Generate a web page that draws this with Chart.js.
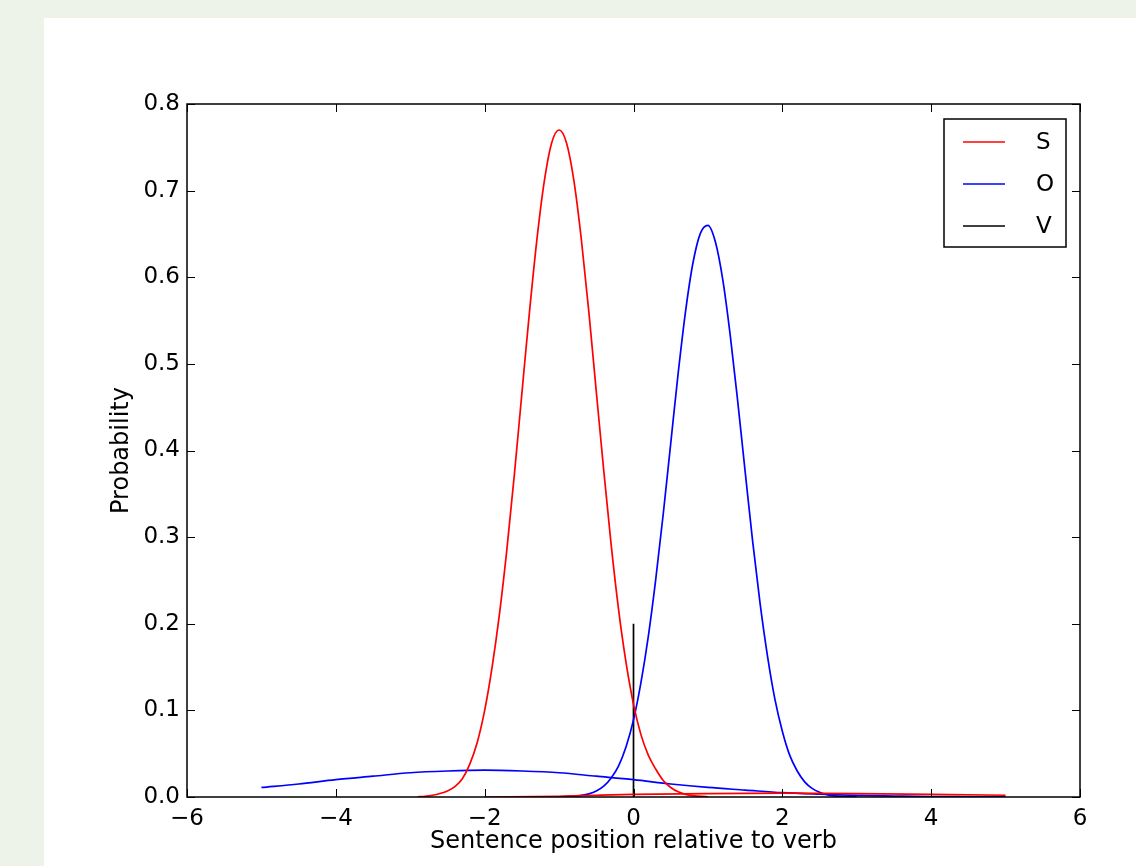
<!DOCTYPE html>
<html>
<head>
<meta charset="utf-8">
<script src="https://cdn.jsdelivr.net/npm/chart.js@4/dist/chart.umd.min.js"></script>
<style>
  html, body { margin: 0; padding: 0; background: #eef3e9; }
  body { width: 1136px; height: 866px; position: relative; overflow: hidden; }
  #panel { position: absolute; left: 44px; top: 18px; width: 1092px; height: 848px; background: #fff; }
  #chart { position: absolute; left: 0; top: 0; }
</style>
</head>
<body>
<div id="panel"><canvas id="chart" width="1092" height="848"></canvas></div>
<script>
// S: subject position, main peak (red)
const sX = [-2.9, -2.8, -2.7, -2.6, -2.5, -2.4, -2.3, -2.2, -2.1, -2.0, -1.9, -1.8, -1.7, -1.6, -1.5, -1.4, -1.3, -1.2, -1.1,
  -1.0, -0.9, -0.8, -0.7, -0.6, -0.5, -0.4, -0.3, -0.2, -0.1, 0.0, 0.1, 0.2, 0.3, 0.4, 0.5, 0.6, 0.7, 0.8, 1.0];
const sY = [0.0003, 0.0008, 0.002, 0.004, 0.007, 0.012, 0.021, 0.038, 0.063, 0.100, 0.150, 0.212, 0.287, 0.373, 0.466, 0.558, 0.642, 0.710, 0.755,
  0.770, 0.755, 0.711, 0.643, 0.560, 0.468, 0.377, 0.291, 0.216, 0.155, 0.107, 0.072, 0.048, 0.032, 0.019, 0.011, 0.006, 0.003, 0.0015, 0.0003];

// S: low flat tail (red)
const sTailX = [-2, -1, -0.5, 0, 1, 2, 3, 4, 5];
const sTailY = [0.0, 0.0008, 0.002, 0.003, 0.004, 0.0045, 0.004, 0.003, 0.002];

// O: object position, main peak (blue)
const oX = [-1.0, -0.8, -0.7, -0.6, -0.5, -0.4, -0.3, -0.2, -0.1, 0.0, 0.1, 0.2, 0.3, 0.4, 0.5, 0.6, 0.7, 0.8, 0.9,
  1.0, 1.1, 1.2, 1.3, 1.4, 1.5, 1.6, 1.7, 1.8, 1.9, 2.0, 2.1, 2.2, 2.3, 2.4, 2.5, 2.6, 2.7, 2.8, 3.0];
const oY = [0.0002, 0.0009, 0.0018, 0.0036, 0.0069, 0.0125, 0.022, 0.036, 0.058, 0.089, 0.132, 0.186, 0.252, 0.327, 0.408, 0.489, 0.561, 0.617, 0.651,
  0.660, 0.641, 0.597, 0.533, 0.457, 0.376, 0.296, 0.224, 0.163, 0.113, 0.076, 0.048, 0.030, 0.0175, 0.0099, 0.0054, 0.0028, 0.0014, 0.0007, 0.0001];

// O: broad low hump (blue)
const oWideX = [-5.0, -4.5, -4.0, -3.5, -3.0, -2.5, -2.0, -1.5, -1.0, -0.5, 0.0, 0.5, 1.0, 1.5, 2.0, 2.5, 3.0, 3.5, 4.0, 4.5, 5.0];
const oWideY = [0.011, 0.015, 0.020, 0.024, 0.028, 0.030, 0.031, 0.030, 0.028, 0.024, 0.020, 0.015, 0.011, 0.008, 0.005, 0.0032, 0.0018, 0.0011, 0.0005, 0.0003, 0.0001];

// V: verb marker (black)
const vX = [0, 0];
const vY = [0, 0.2];

const seriesNames = ['S', 'O', 'V'];
const seriesColors = ['#ff0000', '#0000ff', '#000000'];

const xTicks = [-6, -4, -2, 0, 2, 4, 6];
const yTicks = [0.0, 0.1, 0.2, 0.3, 0.4, 0.5, 0.6, 0.7, 0.8];

const FONT = 'DejaVu Sans';
Chart.defaults.font.family = FONT;
Chart.defaults.color = '#000';

function pts(xs, ys) {
  return xs.map((x, i) => ({ x: x, y: ys[i] }));
}

function curve(label, xs, ys, color, smooth) {
  return {
    label: label,
    data: pts(xs, ys),
    borderColor: color,
    borderWidth: 1.7,
    pointRadius: 0,
    fill: false,
    cubicInterpolationMode: smooth ? 'monotone' : 'default',
    tension: 0
  };
}

// frame, inward ticks on all sides, and the boxed legend inside the plot
const mplFrame = {
  id: 'mplFrame',
  afterDatasetsDraw(chart) {
    const { ctx, chartArea: a, scales: { x, y } } = chart;
    const tl = 8;
    ctx.save();
    ctx.strokeStyle = '#000';
    ctx.lineWidth = 1;
    ctx.beginPath();
    xTicks.forEach(v => {
      const px = Math.round(x.getPixelForValue(v)) + 0.5;
      ctx.moveTo(px, a.bottom); ctx.lineTo(px, a.bottom - tl);
      ctx.moveTo(px, a.top); ctx.lineTo(px, a.top + tl);
    });
    yTicks.forEach(v => {
      const py = Math.round(y.getPixelForValue(v)) + 0.5;
      ctx.moveTo(a.left, py); ctx.lineTo(a.left + tl, py);
      ctx.moveTo(a.right, py); ctx.lineTo(a.right - tl, py);
    });
    ctx.stroke();
    ctx.lineWidth = 1.5;
    ctx.strokeRect(a.left, a.top, a.right - a.left, a.bottom - a.top);

    // legend (only the named series)
    const bx = a.right - 136, by = a.top + 15, bw = 122, bh = 128;
    ctx.fillStyle = '#fff';
    ctx.fillRect(bx, by, bw, bh);
    ctx.lineWidth = 1.5;
    ctx.strokeRect(bx, by, bw, bh);
    ctx.font = '23px "' + FONT + '"';
    ctx.textBaseline = 'middle';
    ctx.textAlign = 'left';
    const rows = [23, 65, 107];
    seriesNames.forEach((name, i) => {
      const ly = by + rows[i];
      ctx.strokeStyle = seriesColors[i];
      ctx.lineWidth = 1.7;
      ctx.beginPath();
      ctx.moveTo(bx + 19, ly); ctx.lineTo(bx + 61, ly);
      ctx.stroke();
      ctx.fillStyle = '#000';
      ctx.fillText(name, bx + 92, ly + 1);
    });
    ctx.restore();
  }
};

new Chart(document.getElementById('chart'), {
  type: 'line',
  data: {
    datasets: [
      curve(seriesNames[0], sX, sY, seriesColors[0], true),
      curve('', sTailX, sTailY, seriesColors[0], true),
      curve(seriesNames[1], oX, oY, seriesColors[1], true),
      curve('', oWideX, oWideY, seriesColors[1], true),
      curve(seriesNames[2], vX, vY, seriesColors[2], false)
    ]
  },
  options: {
    responsive: false,
    devicePixelRatio: 1,
    animation: false,
    layout: { padding: { top: 86, right: 56, left: 0, bottom: 0 } },
    plugins: { legend: { display: false }, tooltip: { enabled: false } },
    scales: {
      x: {
        type: 'linear',
        min: -6, max: 6,
        afterFit: s => { s.height = 69; },
        afterBuildTicks: s => { s.ticks = xTicks.map(v => ({ value: v })); },
        grid: { display: false, drawTicks: false },
        border: { display: false },
        ticks: {
          font: { size: 23 },
          padding: 8,
          maxRotation: 0,
          callback: v => String(v).replace('-', '\u2212')
        },
        title: { display: true, text: 'Sentence position relative to verb', font: { size: 24 }, padding: { bottom: 10 } }
      },
      y: {
        type: 'linear',
        min: 0, max: 0.8,
        afterFit: s => { s.width = 143; },
        afterBuildTicks: s => { s.ticks = yTicks.map(v => ({ value: v })); },
        grid: { display: false, drawTicks: false },
        border: { display: false },
        ticks: {
          font: { size: 23 },
          padding: 7,
          callback: v => Number(v).toFixed(1)
        },
        title: { display: true, text: 'Probability', font: { size: 24 }, padding: { top: 63 } }
      }
    }
  },
  plugins: [mplFrame]
});
</script>
</body>
</html>
